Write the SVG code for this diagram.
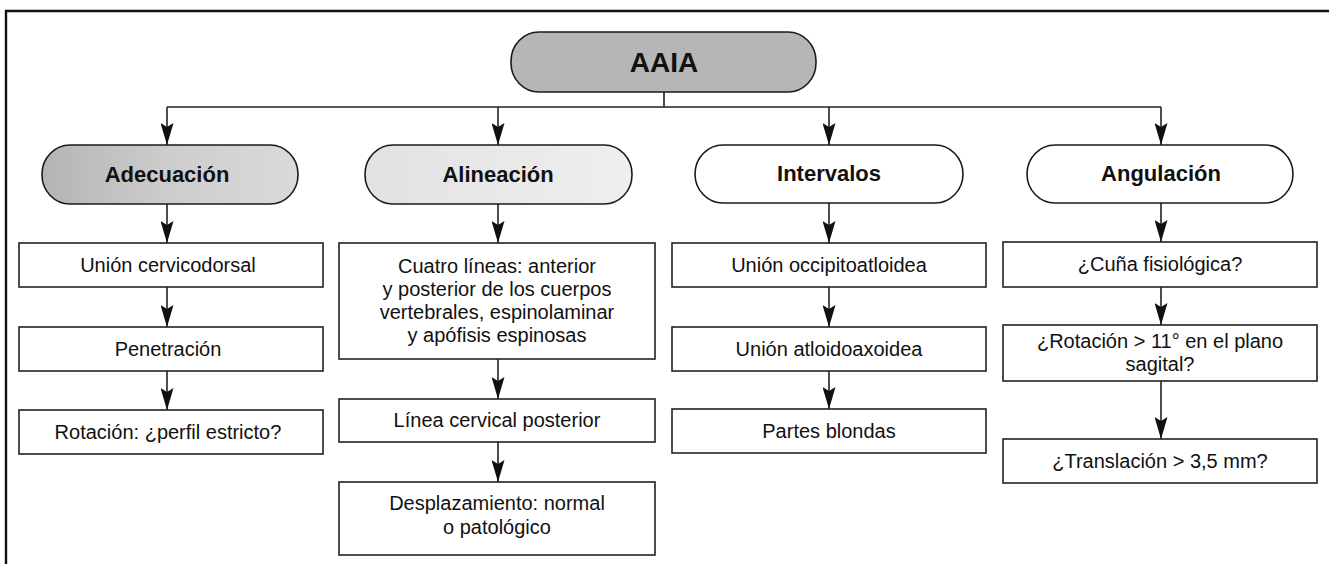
<svg xmlns="http://www.w3.org/2000/svg" width="1329" height="564" viewBox="0 0 1329 564">
<defs>
<linearGradient id="gAde" x1="0" y1="0" x2="1" y2="0">
<stop offset="0" stop-color="#b4b4b4"/>
<stop offset="0.5" stop-color="#cdcdcd"/>
<stop offset="1" stop-color="#dadada"/>
</linearGradient>
<linearGradient id="gAli" x1="0" y1="0" x2="1" y2="0">
<stop offset="0" stop-color="#e2e2e2"/>
<stop offset="1" stop-color="#efefef"/>
</linearGradient>
<marker id="ah" markerUnits="userSpaceOnUse" viewBox="0 0 22 13" refX="22" refY="6.5" markerWidth="22" markerHeight="13" orient="auto">
<path d="M0,0 L22,6.5 L0,13 L4,6.5 z" fill="#111"/>
</marker>
<style>
.pill{stroke:#1a1a1a;stroke-width:1.6}
.box{fill:#fff;stroke:#222;stroke-width:1.6}
.hd{font-family:"Liberation Sans",Arial,sans-serif;font-weight:bold;font-size:22px;fill:#111;text-anchor:middle}
.tx{font-family:"Liberation Sans",Arial,sans-serif;font-size:20px;fill:#111;text-anchor:middle}
.cn{fill:none;stroke:#222;stroke-width:1.6}
.ar{fill:none;stroke:#222;stroke-width:1.6;marker-end:url(#ah)}
</style>
</defs>
<rect width="1329" height="564" fill="#fff"/>
<g id="frame" fill="none" stroke="#111" stroke-width="2.4">
<path d="M6,564 V11 H1329"/>
</g>
<g id="connectors">
<path class="cn" d="M664,92 V107 M167,107 H1161"/>
<path class="ar" d="M167,107 V145"/>
<path class="ar" d="M498,107 V145"/>
<path class="ar" d="M829,107 V145"/>
<path class="ar" d="M1161,107 V145"/>
<path class="ar" d="M167,204 V243"/>
<path class="ar" d="M167,287 V327"/>
<path class="ar" d="M167,371 V410"/>
<path class="ar" d="M498,204 V243"/>
<path class="ar" d="M498,359 V399"/>
<path class="ar" d="M498,442 V482"/>
<path class="ar" d="M829,203 V243"/>
<path class="ar" d="M829,287 V327"/>
<path class="ar" d="M829,371 V409"/>
<path class="ar" d="M1161,203 V242"/>
<path class="ar" d="M1161,287 V325"/>
<path class="ar" d="M1161,381 V439"/>
</g>
<g id="aaia">
<rect class="pill" x="511" y="32" width="305" height="60" rx="28" ry="29" fill="#b6b6b6"/>
<text class="hd" x="664" y="72" style="font-size:28px">AAIA</text>
</g>
<g id="adecuacion">
<rect class="pill" x="42" y="145" width="256" height="59" rx="28" ry="29" fill="url(#gAde)"/>
<text class="hd" x="167" y="182">Adecuación</text>
</g>
<g id="alineacion">
<rect class="pill" x="365" y="145" width="267" height="59" rx="28" ry="29" fill="url(#gAli)"/>
<text class="hd" x="498" y="182">Alineación</text>
</g>
<g id="intervalos">
<rect class="pill" x="695" y="145" width="268" height="58" rx="28" ry="29" fill="#fff"/>
<text class="hd" x="829" y="181">Intervalos</text>
</g>
<g id="angulacion">
<rect class="pill" x="1027" y="145" width="266" height="58" rx="28" ry="29" fill="#fff"/>
<text class="hd" x="1161" y="181">Angulación</text>
</g>
<g id="union-cervicodorsal">
<rect class="box" x="19" y="243" width="304" height="44"/>
<text class="tx" x="168" y="272">Unión cervicodorsal</text>
</g>
<g id="penetracion">
<rect class="box" x="19" y="327" width="304" height="44"/>
<text class="tx" x="168" y="356">Penetración</text>
</g>
<g id="rotacion-perfil">
<rect class="box" x="19" y="410" width="304" height="44"/>
<text class="tx" x="168" y="439">Rotación: ¿perfil estricto?</text>
</g>
<g id="cuatro-lineas">
<rect class="box" x="339" y="243" width="316" height="116"/>
<text class="tx" x="497" y="273">Cuatro líneas: anterior</text>
<text class="tx" x="497" y="296">y posterior de los cuerpos</text>
<text class="tx" x="497" y="319">vertebrales, espinolaminar</text>
<text class="tx" x="497" y="342">y apófisis espinosas</text>
</g>
<g id="linea-cervical">
<rect class="box" x="339" y="399" width="316" height="43"/>
<text class="tx" x="497" y="427">Línea cervical posterior</text>
</g>
<g id="desplazamiento">
<rect class="box" x="339" y="482" width="316" height="73"/>
<text class="tx" x="497" y="510">Desplazamiento: normal</text>
<text class="tx" x="497" y="534">o patológico</text>
</g>
<g id="union-occipitoatloidea">
<rect class="box" x="672" y="243" width="314" height="44"/>
<text class="tx" x="829" y="272">Unión occipitoatloidea</text>
</g>
<g id="union-atloidoaxoidea">
<rect class="box" x="672" y="327" width="314" height="44"/>
<text class="tx" x="829" y="356">Unión atloidoaxoidea</text>
</g>
<g id="partes-blondas">
<rect class="box" x="672" y="409" width="314" height="44"/>
<text class="tx" x="829" y="438">Partes blondas</text>
</g>
<g id="cuna">
<rect class="box" x="1003" y="242" width="314" height="45"/>
<text class="tx" x="1160" y="271">¿Cuña fisiológica?</text>
</g>
<g id="rotacion-11">
<rect class="box" x="1003" y="325" width="314" height="56"/>
<text class="tx" x="1160" y="348">¿Rotación &gt; 11° en el plano</text>
<text class="tx" x="1160" y="371">sagital?</text>
</g>
<g id="translacion">
<rect class="box" x="1003" y="439" width="314" height="44"/>
<text class="tx" x="1160" y="468">¿Translación &gt; 3,5 mm?</text>
</g>
</svg>
